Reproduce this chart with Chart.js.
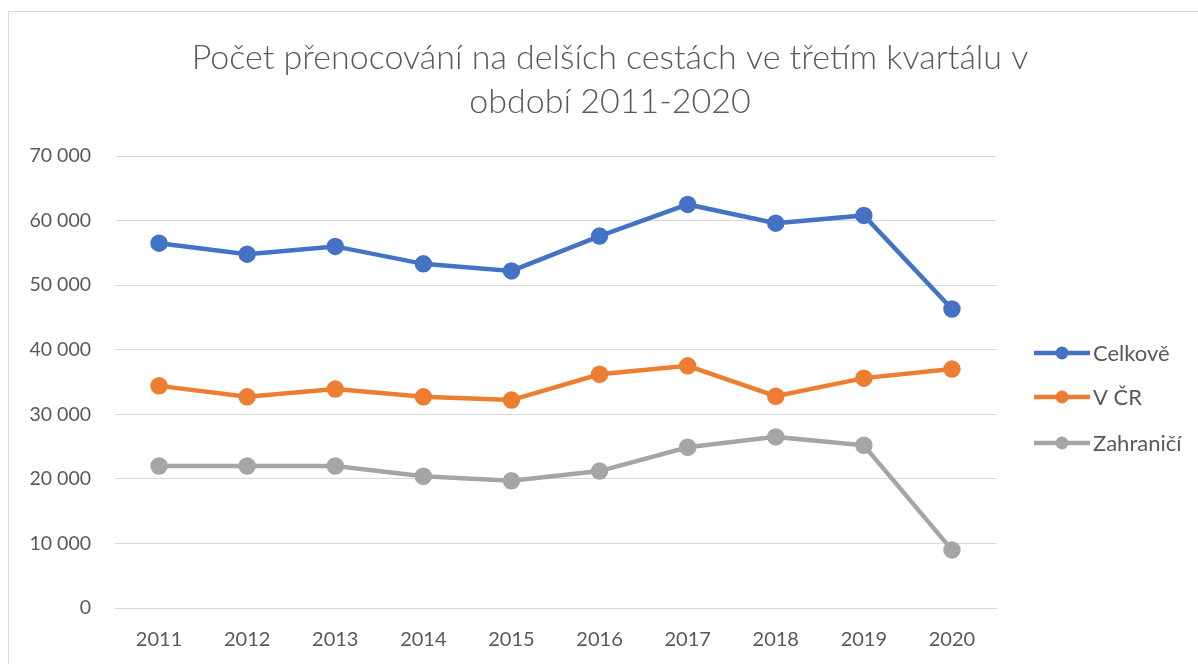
<!DOCTYPE html>
<html>
<head>
<meta charset="utf-8">
<script src="https://cdn.jsdelivr.net/npm/chart.js@4/dist/chart.umd.min.js"></script>
<style>
html,body{margin:0;padding:0;background:#fff;}
#wrap{position:relative;width:1198px;height:664px;overflow:hidden;}
#frame{position:absolute;left:8px;top:11px;width:1300px;height:800px;border:1px solid #D9D9D9;box-sizing:border-box;}
canvas{position:absolute;left:0;top:0;}
</style>
</head>
<body>
<div id="wrap"><div id="frame"></div><canvas id="c" width="1198" height="664"></canvas></div>
<script>
const titleLines = ["Počet přenocování na delších cestách ve třetím kvartálu v", "období 2011-2020"];
const years = ["2011","2012","2013","2014","2015","2016","2017","2018","2019","2020"];
const seriesNames = ["Celkově", "V ČR", "Zahraničí"];
const celkove = [56500, 54800, 56000, 53300, 52200, 57600, 62500, 59600, 60800, 46300];
const vCR = [34400, 32700, 33900, 32700, 32200, 36200, 37500, 32800, 35600, 37000];
const zahranici = [22000, 22000, 22000, 20400, 19700, 21200, 24900, 26500, 25200, 9000];
const colors = ["#4472C4", "#ED7D31", "#A5A5A5"];
const yMin = 0, yMax = 70000, yStep = 10000;

const FONT = "Lato, 'Open Sans', sans-serif";
const TXT = "#595959";

const titlePlugin = {
  id: 'customTitle',
  afterDraw(chart) {
    const ctx = chart.ctx;
    ctx.save();
    ctx.fillStyle = TXT;
    ctx.font = "300 34px " + FONT;
    ctx.textAlign = 'center';
    ctx.textBaseline = 'middle';
    ctx.fillText(titleLines[0], 610, 58);
    ctx.fillText(titleLines[1], 610, 102);
    ctx.restore();
  }
};

const legendPlugin = {
  id: 'customLegend',
  afterDraw(chart) {
    const ctx = chart.ctx;
    const ys = [353, 397, 443];
    ctx.save();
    chart.data.datasets.forEach((ds, i) => {
      const y = ys[i];
      ctx.strokeStyle = ds.borderColor;
      ctx.lineWidth = 4.5;
      ctx.lineCap = 'butt';
      ctx.beginPath();
      ctx.moveTo(1034, y);
      ctx.lineTo(1090, y);
      ctx.stroke();
      ctx.fillStyle = ds.borderColor;
      ctx.beginPath();
      ctx.arc(1062, y, 6.5, 0, Math.PI * 2);
      ctx.fill();
      ctx.fillStyle = TXT;
      ctx.font = "22px " + FONT;
      ctx.textBaseline = 'middle';
      ctx.textAlign = 'left';
      ctx.fillText(ds.label, 1093, y + 1);
    });
    ctx.restore();
  }
};

const data = [celkove, vCR, zahranici];
new Chart(document.getElementById('c'), {
  type: 'line',
  data: {
    labels: years,
    datasets: seriesNames.map((n, i) => ({
      label: n,
      data: data[i],
      borderColor: colors[i],
      backgroundColor: colors[i],
      pointBackgroundColor: colors[i],
      pointBorderColor: colors[i],
      borderWidth: 4.5,
      pointRadius: 6.5,
      pointHoverRadius: 6.5,
      tension: 0,
      fill: false
    }))
  },
  options: {
    responsive: false,
    devicePixelRatio: 1,
    animation: false,
    events: [],
    layout: { padding: { top: 156, left: 20, right: 202, bottom: 0 } },
    plugins: {
      legend: { display: false },
      tooltip: { enabled: false },
      title: { display: false }
    },
    scales: {
      x: {
        offset: true,
        afterFit(s) { s.height = 56; },
        grid: { display: false, drawTicks: false },
        border: { display: true, color: '#D9D9D9', width: 1 },
        ticks: { color: TXT, font: { family: FONT, size: 20 }, padding: 20, maxRotation: 0 }
      },
      y: {
        min: yMin, max: yMax,
        afterFit(s) { s.width = 95; },
        grid: { color: '#D9D9D9', lineWidth: 1, drawTicks: false },
        border: { display: false },
        ticks: {
          stepSize: yStep,
          color: TXT,
          font: { family: FONT, size: 19.5 },
          padding: 24,
          callback: v => String(v).replace(/\B(?=(\d{3})+(?!\d))/g, ' ')
        }
      }
    }
  },
  plugins: [titlePlugin, legendPlugin]
});
</script>
</body>
</html>
